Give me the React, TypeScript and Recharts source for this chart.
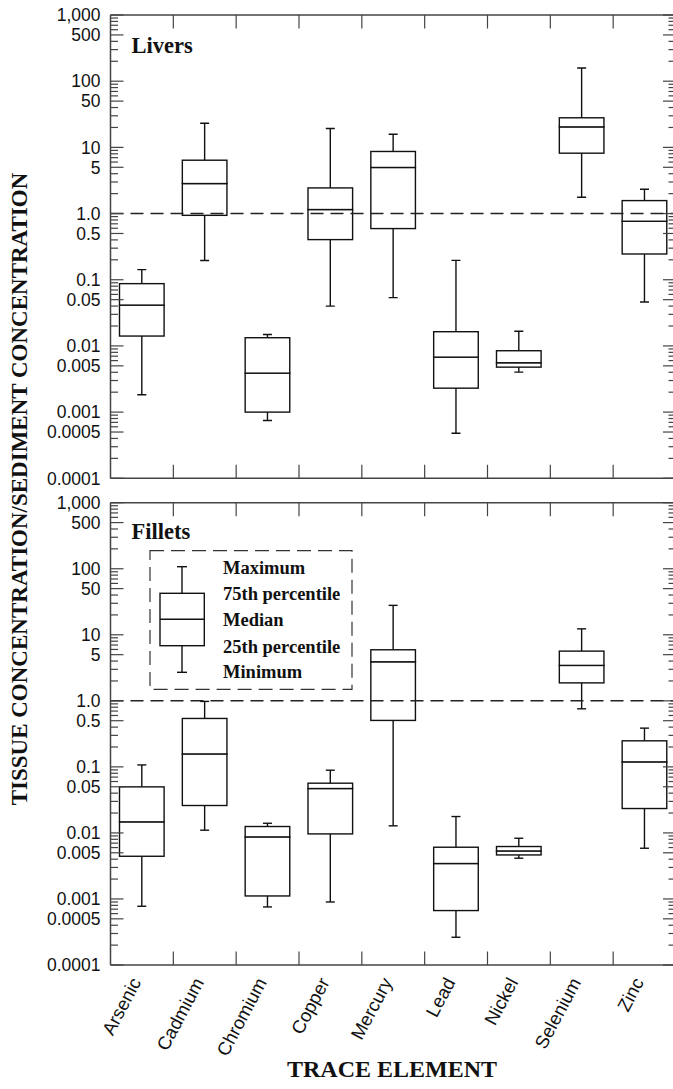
import React from 'react';
import { ComposedChart, Bar, XAxis, YAxis, ReferenceLine } from 'recharts';

const elements = ['Arsenic', 'Cadmium', 'Chromium', 'Copper', 'Mercury', 'Lead', 'Nickel', 'Selenium', 'Zinc'];

// Livers
const liverMin = [0.00183, 0.195, 0.000746, 0.04, 0.0536, 0.00048, 0.00402, 1.76, 0.046];
const liverQ1 = [0.0141, 0.94, 0.001, 0.404, 0.593, 0.0023, 0.00478, 8.17, 0.245];
const liverMedian = [0.0414, 2.84, 0.00388, 1.15, 4.97, 0.00677, 0.00557, 20.4, 0.765];
const liverQ3 = [0.0873, 6.4, 0.0133, 2.44, 8.67, 0.0164, 0.00846, 28, 1.57];
const liverMax = [0.142, 23.2, 0.0149, 19.3, 15.8, 0.196, 0.0167, 158, 2.33];

// Fillets
const filletMin = [0.000775, 0.011, 0.000757, 0.0009, 0.0128, 0.000263, 0.00414, 0.757, 0.00586];
const filletQ1 = [0.00443, 0.026, 0.00111, 0.00966, 0.505, 0.000667, 0.00464, 1.87, 0.0234];
const filletMedian = [0.0147, 0.157, 0.0087, 0.047, 3.9, 0.00344, 0.00533, 3.44, 0.119];
const filletQ3 = [0.0498, 0.541, 0.0125, 0.0566, 5.93, 0.00607, 0.00622, 5.66, 0.248];
const filletMax = [0.107, 0.98, 0.014, 0.089, 27.9, 0.0177, 0.0083, 12.3, 0.386];

const majorTicks = [0.0001, 0.0005, 0.001, 0.005, 0.01, 0.05, 0.1, 0.5, 1, 5, 10, 50, 100, 500, 1000];
const majorTickLabels = ['0.0001', '0.0005', '0.001', '0.005', '0.01', '0.05', '0.1', '0.5', '1.0', '5', '10', '50', '100', '500', '1,000'];
const decades = [0.0001, 0.001, 0.01, 0.1, 1, 10, 100];
const minorMultipliers = [2, 3, 4, 6, 7, 8, 9];
const referenceValue = 1;
const legendLabels = ['Maximum', '75th percentile', 'Median', '25th percentile', 'Minimum'];

const minorTicks = decades.flatMap((d) => minorMultipliers.map((m) => d * m));
const allTicks = [...majorTicks, ...minorTicks].sort((a, b) => a - b);

const buildRows = (mn: number[], q1: number[], md: number[], q3: number[], mx: number[]) =>
  elements.map((name, i) => ({
    name,
    whisker: [mn[i], mx[i]],
    lower: [q1[i], md[i]],
    upper: [md[i], q3[i]],
  }));

const liverData = buildRows(liverMin, liverQ1, liverMedian, liverQ3, liverMax);
const filletData = buildRows(filletMin, filletQ1, filletMedian, filletQ3, filletMax);

const INK = '#111';
const AXIS = '#444';
const SANS = '"Liberation Sans", Arial, Helvetica, sans-serif';
const SERIF = '"Liberation Serif", "Times New Roman", Times, serif';
const CHART_W = 696;
const LEFT_W = 110.5;
const RIGHT_W = 20;
const PLOT_W = CHART_W - LEFT_W - RIGHT_W;
const LEFT_TICK_MARGIN = 10;
const THIN = 0.01;
const EDGE_TICK = 13.5;

const majorIndex = (v: number) => majorTicks.findIndex((t) => Math.abs(t - v) / t < 1e-6);

const LeftTick = (props: any) => {
  const { x, y, payload } = props;
  const idx = majorIndex(payload.value);
  const ax = x + LEFT_TICK_MARGIN;
  return (
    <g>
      <line x1={ax} x2={ax + (idx >= 0 ? 13 : 7.5)} y1={y} y2={y} stroke={AXIS} strokeWidth={1.2} />
      {idx >= 0 && (
        <text x={x} y={y} dy="0.36em" textAnchor="end" fontSize={17.5} fontFamily={SANS} fill={INK}>
          {majorTickLabels[idx]}
        </text>
      )}
    </g>
  );
};

const RightTick = (props: any) => {
  const { x, y, payload } = props;
  const idx = majorIndex(payload.value);
  return <line x1={x} x2={x - (idx >= 0 ? 13 : 7.5)} y1={y} y2={y} stroke={AXIS} strokeWidth={1.2} />;
};

// category tick: draws the boundary mark after each band (inward) and, optionally, the rotated label
const CatTick = (props: any) => {
  const { x, y, payload, index, visibleTicksCount, showLabel, dir } = props;
  const count = visibleTicksCount || elements.length;
  const axisW = typeof props.width === 'number' && props.width > 0 ? props.width : PLOT_W;
  const half = axisW / count / 2;
  const bx = x + half;
  const ax = x - 6;
  const ay = y + 14;
  return (
    <g>
      {index < count - 1 && (
        <line x1={bx} x2={bx} y1={y} y2={y + dir * EDGE_TICK} stroke={AXIS} strokeWidth={1.2} />
      )}
      {showLabel && (
        <text
          x={ax}
          y={ay}
          dy="0.35em"
          textAnchor="end"
          transform={`rotate(-62 ${ax} ${ay})`}
          fontSize={18.5}
          fontFamily={SANS}
          fill={INK}
        >
          {payload.value}
        </text>
      )}
    </g>
  );
};

const WhiskerShape = (props: any) => {
  const { x, y, width, height } = props;
  const cx = x + width / 2;
  const top = Math.min(y, y + height);
  const bottom = Math.max(y, y + height);
  return (
    <g stroke={INK} strokeWidth={1.4}>
      <line x1={cx} x2={cx} y1={top} y2={bottom} />
      <line x1={cx - 4.5} x2={cx + 4.5} y1={top} y2={top} />
      <line x1={cx - 4.5} x2={cx + 4.5} y1={bottom} y2={bottom} />
    </g>
  );
};

const BoxShape = (props: any) => {
  const { x, y, width, height } = props;
  const top = Math.min(y, y + height);
  const h = Math.abs(height);
  return <rect x={x} y={top} width={width} height={h} fill="#fff" stroke={INK} strokeWidth={1.4} />;
};

function Panel({ data, top, height, marginTop, marginBottom, showLabels }: any) {
  return (
    <div style={{ position: 'absolute', left: 0, top }}>
      <ComposedChart
        width={CHART_W}
        height={height}
        data={data}
        margin={{ top: marginTop, right: 0, bottom: marginBottom, left: 0 }}
      >
        <XAxis
          xAxisId="w"
          dataKey="name"
          type="category"
          orientation="bottom"
          height={THIN}
          axisLine={{ stroke: AXIS, strokeWidth: 1.5 }}
          tickLine={false}
          tickSize={0}
          tickMargin={0}
          interval={0}
          tick={<CatTick showLabel={showLabels} dir={-1} />}
        />
        <XAxis
          xAxisId="wt"
          dataKey="name"
          type="category"
          orientation="top"
          height={THIN}
          axisLine={{ stroke: AXIS, strokeWidth: 1.5 }}
          tickLine={false}
          tickSize={0}
          tickMargin={0}
          interval={0}
          tick={<CatTick showLabel={false} dir={1} />}
        />
        <XAxis xAxisId="lo" dataKey="name" type="category" hide height={THIN} />
        <YAxis
          yAxisId="l"
          type="number"
          scale="log"
          domain={[0.0001, 1000]}
          allowDataOverflow
          ticks={allTicks}
          interval={0}
          width={LEFT_W}
          tickSize={0}
          tickMargin={LEFT_TICK_MARGIN}
          tickLine={false}
          tick={<LeftTick />}
          axisLine={{ stroke: AXIS, strokeWidth: 1.5 }}
        />
        <YAxis
          yAxisId="r"
          orientation="right"
          type="number"
          scale="log"
          domain={[0.0001, 1000]}
          allowDataOverflow
          ticks={allTicks}
          interval={0}
          width={RIGHT_W}
          tickSize={0}
          tickMargin={0}
          tickLine={false}
          tick={<RightTick />}
          axisLine={false}
        />
        <Bar xAxisId="w" yAxisId="l" dataKey="whisker" barSize={44.6} shape={<WhiskerShape />} isAnimationActive={false} />
        <Bar xAxisId="lo" yAxisId="l" dataKey="lower" barSize={44.6} shape={<BoxShape />} isAnimationActive={false} />
        <Bar xAxisId="wt" yAxisId="l" dataKey="upper" barSize={44.6} shape={<BoxShape />} isAnimationActive={false} />
        <ReferenceLine
          xAxisId="w"
          yAxisId="l"
          y={referenceValue}
          stroke="#222"
          strokeWidth={1.5}
          strokeDasharray="13 7"
        />
      </ComposedChart>
    </div>
  );
}

export default function App() {
  const legendY = [573.5, 600, 625.5, 653, 678];
  return (
    <div style={{ position: 'relative', width: 673, height: 1089, overflow: 'hidden', background: '#fff' }}>
      <style>{'html,body{margin:0;padding:0;overflow:hidden;background:#fff}'}</style>
      <Panel data={liverData} top={0} height={490} marginTop={15} marginBottom={490 - 478.3} showLabels={false} />
      <Panel data={filletData} top={490} height={599} marginTop={12.7} marginBottom={124} showLabels />
      <svg
        width={673}
        height={1089}
        style={{ position: 'absolute', left: 0, top: 0, pointerEvents: 'none' }}
      >
        <text x={131.5} y={53} fontSize={22.5} fontWeight="bold" fontFamily={SERIF} fill={INK}>Livers</text>
        <text x={131.5} y={538.5} fontSize={22.5} fontWeight="bold" fontFamily={SERIF} fill={INK}>Fillets</text>
        <text
          transform="translate(19.5,489) rotate(-90)"
          textAnchor="middle"
          dominantBaseline="central"
          fontSize={23}
          fontWeight="bold"
          fontFamily={SERIF}
          fill={INK}
        >
          TISSUE CONCENTRATION/SEDIMENT CONCENTRATION
        </text>
        <text x={392} y={1077} textAnchor="middle" fontSize={24} fontWeight="bold" fontFamily={SERIF} fill={INK}>
          TRACE ELEMENT
        </text>
        <g>
          <rect x={150} y={550.7} width={202} height={138.6} fill="none" stroke="#333" strokeWidth={1.2} strokeDasharray="14 7" />
          <g stroke={INK} strokeWidth={1.4}>
            <line x1={182} x2={182} y1={566.7} y2={672.3} />
            <line x1={177} x2={187} y1={566.7} y2={566.7} />
            <line x1={177} x2={187} y1={672.3} y2={672.3} />
            <rect x={160} y={593.3} width={44.3} height={52.4} fill="#fff" />
            <line x1={160} x2={204.3} y1={619.3} y2={619.3} />
          </g>
          {legendLabels.map((l, i) => (
            <text key={l} x={223} y={legendY[i]} fontSize={18.5} fontWeight="bold" fontFamily={SERIF} fill={INK}>
              {l}
            </text>
          ))}
        </g>
      </svg>
    </div>
  );
}
